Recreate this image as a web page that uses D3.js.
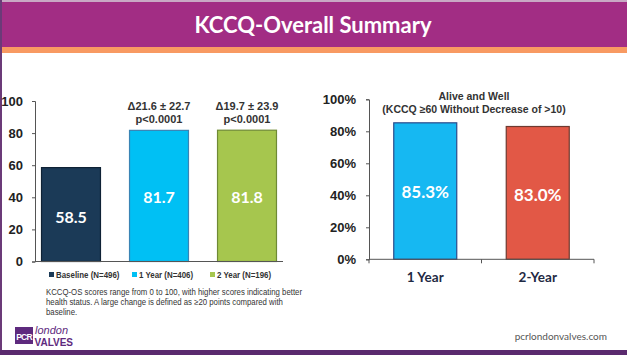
<!DOCTYPE html>
<html><head><meta charset="utf-8">
<script src="https://cdn.jsdelivr.net/npm/d3@7/dist/d3.min.js"></script>
<style>body{margin:0;background:#fff;} svg{display:block;}</style>
</head><body>
<svg id="c" width="627" height="355"></svg>
<script>
// ---- data ----
const leftCategories = ["Baseline (N=496)", "1 Year (N=406)", "2 Year (N=196)"];
const leftValues = [58.5, 81.7, 81.8];
const leftValueLabels = ["58.5", "81.7", "81.8"];
const leftAnnotations = [null, ["\u039421.6 \u00b1 22.7", "p<0.0001"], ["\u039419.7 \u00b1 23.9", "p<0.0001"]];
const leftTicks = [0, 20, 40, 60, 80, 100];
const rightCategories = ["1 Year", "2-Year"];
const rightValues = [85.3, 83.0];
const rightValueLabels = ["85.3%", "83.0%"];
const rightTicks = [0, 20, 40, 60, 80, 100];
const leftColors = ["#1b3a57", "#00c0f4", "#a6c64e"];
const leftEdges = ["#0f2235", "#3a84b4", "#6f8a35"];
const rightColors = ["#16b8f2", "#e25846"];
const rightEdges = ["#2a4a8a", "#6e3a30"];

const svg = d3.select("#c");
const sans = "Arial, 'Liberation Sans', sans-serif";
const cal = "Lato, 'Open Sans', sans-serif";

// frame / header
svg.append("rect").attr("x",0).attr("y",0).attr("width",627).attr("height",355).attr("fill","#fff");
svg.append("rect").attr("x",0).attr("y",0).attr("width",627).attr("height",2).attr("fill","#c9a8c4");
svg.append("rect").attr("x",0).attr("y",2).attr("width",627).attr("height",45).attr("fill","#a22d84");
svg.append("rect").attr("x",0).attr("y",47).attr("width",627).attr("height",6).attr("fill","#f89a62");
svg.append("rect").attr("x",0).attr("y",0).attr("width",2).attr("height",355).attr("fill","#6b3a78");
svg.append("rect").attr("x",0).attr("y",350).attr("width",627).attr("height",5).attr("fill","#5a2a6e");
svg.append("text").attr("x",313).attr("y",33).attr("text-anchor","middle")
  .attr("font-family",cal).attr("font-weight",700).attr("font-size",22).attr("fill","#fff")
  .text("KCCQ-Overall Summary");

// ---- left chart ----
const lx = d3.scaleBand().domain(leftCategories).range([35,283]).paddingInner(0.33).paddingOuter(0.074);
const ly = d3.scaleLinear().domain([0,100]).range([261.5,101]);
const gl = svg.append("g");
const yAxL = gl.append("g").attr("transform","translate(35,0)")
  .call(d3.axisLeft(ly).tickValues(leftTicks).tickSize(3).tickPadding(9));
yAxL.select(".domain").attr("stroke","#555");
yAxL.selectAll(".tick line").attr("stroke","#555");
yAxL.selectAll("text").attr("font-family",sans).attr("font-weight",700).attr("font-size",13).attr("fill","#222");
gl.selectAll("rect.bar").data(leftValues).join("rect")
  .attr("x",(d,i)=>lx(leftCategories[i])).attr("width",lx.bandwidth())
  .attr("y",d=>ly(d)).attr("height",d=>ly(0)-ly(d))
  .attr("fill",(d,i)=>leftColors[i]).attr("stroke",(d,i)=>leftEdges[i]).attr("stroke-width",1.2);
gl.append("line").attr("x1",35).attr("x2",283).attr("y1",ly(0)).attr("y2",ly(0)).attr("stroke","#555");
gl.selectAll("text.val").data(leftValues).join("text")
  .attr("x",(d,i)=>lx(leftCategories[i])+lx.bandwidth()/2)
  .attr("y",(d,i)=> i===0 ? 223 : 203)
  .attr("text-anchor","middle").attr("font-family",cal).attr("font-weight",700).attr("font-size",16).attr("fill","#fff")
  .text((d,i)=>leftValueLabels[i]);
leftAnnotations.forEach((a,i)=>{
  if(!a) return;
  const cx = lx(leftCategories[i])+lx.bandwidth()/2;
  a.forEach((t,j)=>{
    gl.append("text").attr("x",cx).attr("y",110+j*13).attr("text-anchor","middle")
      .attr("font-family",sans).attr("font-weight",700).attr("font-size",11).attr("fill","#333").text(t);
  });
});
// legend
const legX = [49, 132, 210];
leftCategories.forEach((c,i)=>{
  svg.append("rect").attr("x",legX[i]).attr("y",272).attr("width",5).attr("height",5).attr("fill",leftColors[i]);
  const t = svg.append("text").attr("x",legX[i]+7).attr("y",278).attr("font-family",sans).attr("font-weight",700)
    .attr("font-size",9.2).attr("fill","#333").text(c);
  const L = t.node().getComputedTextLength();
  t.attr("textLength", L*0.86).attr("lengthAdjust","spacingAndGlyphs");
});
// footnote
const foot = ["KCCQ-OS scores range from 0 to 100, with higher scores indicating better",
  "health status.  A large change is defined as \u226520 points compared with",
  "baseline."];
let footRatio = null;
foot.forEach((t,i)=>{
  const tx = svg.append("text").attr("x",46).attr("y",295+i*10).attr("font-family",sans).attr("font-size",8.8).attr("fill","#333").text(t);
  const L = tx.node().getComputedTextLength();
  if (footRatio === null) footRatio = 256 / L;
  tx.attr("textLength", L*footRatio).attr("lengthAdjust","spacingAndGlyphs");
});

// ---- right chart ----
const rx = d3.scaleBand().domain(rightCategories).range([369,594]).paddingInner(0.44).paddingOuter(0.22);
const ry = d3.scaleLinear().domain([0,100]).range([259.3,99.3]);
const gr = svg.append("g");
const yAxR = gr.append("g").attr("transform","translate(369,0)")
  .call(d3.axisLeft(ry).tickValues(rightTicks).tickFormat(d=>d+"%").tickSize(3).tickPadding(10));
yAxR.select(".domain").attr("stroke","#555");
yAxR.selectAll(".tick line").attr("stroke","#555");
yAxR.selectAll("text").attr("font-family",sans).attr("font-weight",700).attr("font-size",13).attr("fill","#222");
gr.selectAll("rect.bar").data(rightValues).join("rect")
  .attr("x",(d,i)=>rx(rightCategories[i])).attr("width",rx.bandwidth())
  .attr("y",d=>ry(d)).attr("height",d=>ry(0)-ry(d))
  .attr("fill",(d,i)=>rightColors[i]).attr("stroke",(d,i)=>rightEdges[i]).attr("stroke-width",1.2);
const xAxR = gr.append("g").attr("transform",`translate(0,${ry(0)})`);
xAxR.append("line").attr("x1",369).attr("x2",594).attr("stroke","#555");
[369, (369+594)/2, 594].forEach(x=>xAxR.append("line").attr("x1",x).attr("x2",x).attr("y1",0).attr("y2",4).attr("stroke","#555"));
gr.selectAll("text.cat").data(rightCategories).join("text")
  .attr("x",d=>rx(d)+rx.bandwidth()/2).attr("y",282).attr("text-anchor","middle")
  .attr("font-family",cal).attr("font-weight",700).attr("font-size",13.5).attr("fill","#1f2a44").text(d=>d);
gr.selectAll("text.val").data(rightValues).join("text")
  .attr("x",(d,i)=>rx(rightCategories[i])+rx.bandwidth()/2)
  .attr("y",(d,i)=> i===0 ? 198 : 201)
  .attr("text-anchor","middle").attr("font-family",cal).attr("font-weight",700).attr("font-size",17).attr("fill","#fff")
  .text((d,i)=>rightValueLabels[i]);
svg.append("text").attr("x",474).attr("y",100).attr("text-anchor","middle").attr("font-family",sans)
  .attr("font-weight",700).attr("font-size",10.5).attr("fill","#333").text("Alive and Well");
svg.append("text").attr("x",474).attr("y",112.5).attr("text-anchor","middle").attr("font-family",sans)
  .attr("font-weight",700).attr("font-size",10.5).attr("fill","#333").text("(KCCQ \u226560 Without Decrease of >10)");

// footer
svg.append("text").attr("x",607).attr("y",340).attr("text-anchor","end").attr("font-family",cal)
  .attr("font-size",10).attr("fill","#555").text("pcrlondonvalves.com");
svg.append("rect").attr("x",15).attr("y",327).attr("width",18).attr("height",17).attr("fill","#5e2a7e");
svg.append("text").attr("x",24).attr("y",339.5).attr("text-anchor","middle").attr("font-family",sans)
  .attr("font-weight",700).attr("font-size",8.5).attr("fill","#fff").attr("letter-spacing",-0.8).text("PCR");
svg.append("text").attr("x",35).attr("y",333.5).attr("font-family",sans).attr("font-style","italic")
  .attr("font-size",11).attr("fill","#5e2a7e").text("london");
svg.append("text").attr("x",34.5).attr("y",346).attr("font-family",sans).attr("font-weight",900)
  .attr("font-size",10).attr("fill","#5e2a7e").text("VALVES");
</script>
</body></html>
